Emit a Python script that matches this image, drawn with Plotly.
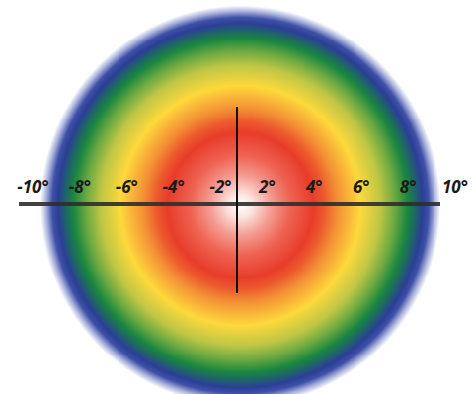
import numpy as np
import plotly.graph_objects as go

# tick labels along the horizontal meridian
labels = ["-10°", "-8°", "-6°", "-4°", "-2°", "2°", "4°", "6°", "8°", "10°"]

# radial colour profile: fraction of field radius -> colour
stop_pos = [0.00, 0.06, 0.15, 0.25, 0.365, 0.42, 0.485, 0.60, 0.70, 0.77,
            0.835, 0.875, 0.91, 0.94, 0.97, 1.00]
stop_col = ["#FFFFFF", "#FCE4E1", "#F49D93", "#EE6352", "#E83C2A", "#EC5A2D",
            "#F39035", "#FDD93C", "#BFC645", "#6FAA42", "#1A873F", "#1F6468",
            "#2B3F96", "#3E4FA6", "#A5AEDA", "#FFFFFF"]

field_radius = 10.0  # degrees
px_per_deg = 20.0
W, H = 473, 394
cx, cy = 240, 205

x_rng = [-cx / px_per_deg, (W - cx) / px_per_deg]
y_rng = [-(H - cy) / px_per_deg, cy / px_per_deg]

gx = np.linspace(x_rng[0], x_rng[1], 480)
gy = np.linspace(y_rng[0], y_rng[1], 400)
X, Y = np.meshgrid(gx, gy)
R = np.sqrt(X ** 2 + Y ** 2)

fig = go.Figure()

fig.add_trace(go.Heatmap(
    x=gx, y=gy, z=R,
    zmin=0, zmax=field_radius,
    colorscale=[[p, c] for p, c in zip(stop_pos, stop_col)],
    zsmooth="best", showscale=False, hoverinfo="skip"
))

# dummy trace so the label axis renders
fig.add_trace(go.Scatter(
    x=[0], y=[0], xaxis="x2", mode="markers",
    marker=dict(opacity=0), hoverinfo="skip", showlegend=False
))

# the two cross lines
fig.add_shape(type="line", x0=-11.05, x1=10.0, y0=0.05, y1=0.05,
              line=dict(color="rgba(45,45,45,0.9)", width=4))
fig.add_shape(type="line", x0=-0.15, x1=-0.15, y0=4.9, y1=-4.4,
              line=dict(color="#111111", width=2))

n = len(labels)
lab_a = -33 / (422 / (n - 1))
lab_b = lab_a + W / (422 / (n - 1))

fig.update_layout(
    width=W, height=H,
    margin=dict(l=0, r=0, t=0, b=0),
    paper_bgcolor="white", plot_bgcolor="white",
    showlegend=False,
    xaxis=dict(range=x_rng, visible=False, fixedrange=True),
    yaxis=dict(range=y_rng, visible=False, fixedrange=True),
    xaxis2=dict(
        overlaying="x", anchor="free", position=(H - 196) / H, side="top",
        range=[lab_a, lab_b], tickvals=list(range(n)), ticktext=labels,
        showgrid=False, zeroline=False, showline=False, ticks="",
        tickfont=dict(family="Open Sans", size=17, color="#1a1a1a",
                      style="italic", weight=700),
    ),
)

fig.write_html("out.html", config={"displayModeBar": False},
               post_script="document.body.style.margin='0';")
